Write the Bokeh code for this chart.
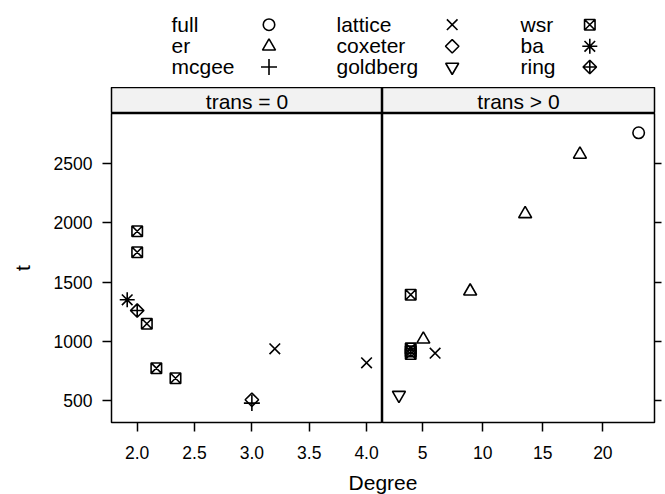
import numpy as np
from bokeh.plotting import figure
from bokeh.models import (ColumnDataSource, FixedTicker, LinearAxis, Range1d,
                          NumeralTickFormatter, CustomJSTickFormatter)
from bokeh.layouts import column, row
from bokeh.embed import file_html
from bokeh.resources import INLINE
from bokeh.core.properties import value

# ---------------- data ----------------
graph_types = ["full", "er", "mcgee", "lattice", "coxeter", "goldberg", "wsr", "ba", "ring"]
panel_labels = ["trans = 0", "trans > 0"]

graph = ["wsr", "wsr", "ba", "ring", "wsr", "wsr", "wsr", "lattice", "lattice", "coxeter", "mcgee",
         "full", "er", "er", "er", "er", "wsr", "wsr", "wsr", "wsr", "lattice", "goldberg"]
trans = [0] * 11 + [1] * 11
degree = [2.0, 2.0, 1.913, 2.0, 2.084, 2.167, 2.334, 3.2, 4.0, 3.0, 3.0,
          22.98, 18.09, 13.53, 8.95, 5.05, 4.0, 4.0, 4.0, 4.0, 6.03, 3.02]
t = [1930, 1753, 1351, 1260, 1148, 773, 688, 937, 818, 506, 478,
     2762, 2579, 2077, 1423, 1017, 1393, 940, 915, 893, 900, 545]

x_ticks_left = [2.0, 2.5, 3.0, 3.5, 4.0]
x_ticks_right = [5, 10, 15, 20]
y_ticks = [500, 1000, 1500, 2000, 2500]

# ---------------- styles ----------------
FONT = value("Liberation Sans")
TICK_FS = "17.5px"
MARK = {"full": ("circle", 11.5, 0.0), "er": ("triangle", 13, 0.0), "mcgee": ("cross", 16, 0.0),
        "lattice": ("x", 15, 0.0), "coxeter": ("square", 9.5, np.pi / 4),
        "goldberg": ("inverted_triangle", 13, 0.0), "wsr": ("square_x", 10.5, 0.0),
        "ba": ("asterisk", 15, 0.0), "ring": ("square_x", 9.5, np.pi / 4)}
LW = 1.6
XR = [(1.776, 4.139), (1.65, 24.3)]
YR = (314, 2925)
W = [382, 283]
TOTAL_W = 665


def style_cols(types):
    return dict(marker=[MARK[g][0] for g in types],
                size=[MARK[g][1] for g in types],
                angle=[MARK[g][2] for g in types])


def bare(w, h, xr, yr, **kw):
    f = figure(width=w, height=h, x_range=Range1d(*xr), y_range=Range1d(*yr),
               output_backend="svg", toolbar_location=None,
               x_axis_location=None, y_axis_location=None,
               min_border_top=0, min_border_bottom=0, **kw)
    f.grid.grid_line_color = None
    f.outline_line_color = None
    f.border_fill_color = "white"
    f.background_fill_color = "white"
    return f


# ---------------- legend ----------------
LEG_H = 87
LEG_TEXT_X = [171, 336, 520]
LEG_MARK_X = [268.5, 451.7, 589.3]
LEG_TEXT_Y = [63.3, 41.7, 21.0]
LEG_MARK_Y = [62.8, 41.2, 20.5]
leg = bare(TOTAL_W, LEG_H, (0, TOTAL_W), (0, LEG_H), min_border_left=0, min_border_right=0)
n = len(graph_types)
lsrc = dict(tx=[LEG_TEXT_X[i // 3] for i in range(n)],
            mx=[LEG_MARK_X[i // 3] for i in range(n)],
            ty=[LEG_TEXT_Y[i % 3] for i in range(n)],
            my=[LEG_MARK_Y[i % 3] for i in range(n)],
            label=graph_types)
lsrc.update(style_cols(graph_types))
lsrc = ColumnDataSource(lsrc)
leg.text(x="tx", y="ty", text="label", source=lsrc, text_font=FONT, text_font_size="21px",
         text_baseline="alphabetic", text_align="left", text_color="black")
leg.scatter(x="mx", y="my", marker="marker", size="size", angle="angle", source=lsrc,
            fill_color=None, line_color="black", line_width=LW)

# ---------------- strips and panels ----------------
strips, panels = [], []
for k in range(2):
    left = k == 0
    mbl = 111 if left else 0
    mbr = 0 if left else 11
    s = bare(W[k], 26, (0, 1), (0, 26), min_border_left=mbl, min_border_right=mbr)
    s.background_fill_color = "#f2f2f2"
    s.outline_line_color = "black"
    s.outline_line_width = 1.5
    s.text(x=[0.5], y=[12], text=[panel_labels[k]], text_font=FONT, text_font_size="21px",
           text_align="center", text_baseline="alphabetic", text_color="black")
    strips.append(s)

    p = bare(W[k], 355, XR[k], YR, min_border_left=mbl, min_border_right=mbr)
    p.min_border_bottom = 46
    p.outline_line_color = "black"
    p.outline_line_width = 1.5

    xa = LinearAxis(ticker=FixedTicker(ticks=x_ticks_left if left else x_ticks_right),
                    axis_line_color=None, major_tick_out=9, major_tick_in=0,
                    major_tick_line_width=1.5, minor_tick_line_color=None,
                    major_label_standoff=14, major_label_text_font="Liberation Sans",
                    major_label_text_font_size=TICK_FS, major_label_text_color="black")
    if left:
        xa.formatter = NumeralTickFormatter(format="0.0")
    p.add_layout(xa, "below")

    ya = LinearAxis(ticker=FixedTicker(ticks=y_ticks), axis_line_color=None,
                    major_tick_in=0, major_tick_line_width=1.5, minor_tick_line_color=None,
                    major_label_text_font="Liberation Sans", major_label_text_color="black",
                    major_label_text_font_size=TICK_FS)
    if left:
        ya.major_tick_out = 9
        ya.major_label_standoff = 10
        ya.axis_label = "t"
        ya.axis_label_text_font = "Liberation Sans"
        ya.axis_label_text_font_size = "21px"
        ya.axis_label_text_font_style = "normal"
        ya.axis_label_text_color = "black"
        ya.axis_label_standoff = 17
        p.add_layout(ya, "left")
    else:
        ya.major_tick_out = 7
        ya.major_label_standoff = 0
        ya.formatter = CustomJSTickFormatter(code="return ''")
        p.add_layout(ya, "right")

    idx = [i for i in range(len(graph)) if trans[i] == k]
    types = [graph[i] for i in idx]
    d = dict(x=[degree[i] for i in idx], y=[t[i] for i in idx])
    d.update(style_cols(types))
    p.scatter(x="x", y="y", marker="marker", size="size", angle="angle",
              source=ColumnDataSource(d), fill_color=None, line_color="black", line_width=LW)
    panels.append(p)

# ---------------- x label ----------------
xl = bare(TOTAL_W, 26, (0, TOTAL_W), (0, 26), min_border_left=0, min_border_right=0)
xl.text(x=[382.5], y=[12], text=["Degree"], text_font=FONT, text_font_size="21px",
        text_align="center", text_baseline="alphabetic", text_color="black")

layout = column(leg, row(strips[0], strips[1]), row(panels[0], panels[1]), xl)
open("out.html", "w").write(file_html(layout, INLINE))
